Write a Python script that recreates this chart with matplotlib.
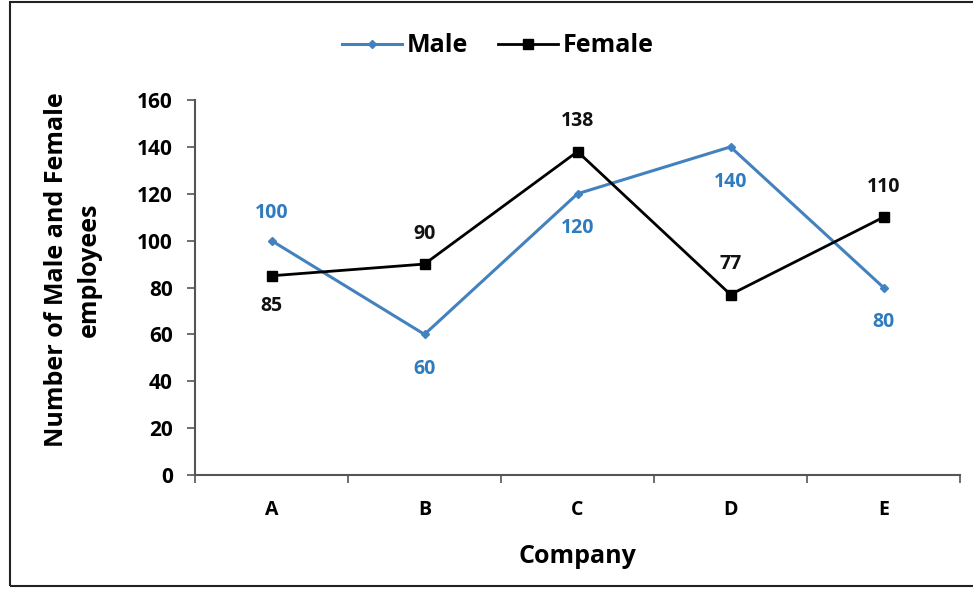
import matplotlib
matplotlib.use("Agg")
import matplotlib.pyplot as plt
from matplotlib.patches import Rectangle

companies = ["A", "B", "C", "D", "E"]
male = [100, 60, 120, 140, 80]
female = [85, 90, 138, 77, 110]
yticks = [0, 20, 40, 60, 80, 100, 120, 140, 160]
male_label_pos = ["above", "below", "below", "below", "below"]
female_label_pos = ["below", "above", "above", "above", "above"]

plt.rcParams['font.family'] = ['Open Sans', 'DejaVu Sans']
WT = "bold"

MALE_C = "#4382bf"
MALE_T = "#2e7bbf"
FEM_C = "#000000"

fig = plt.figure(figsize=(9.73, 5.89), dpi=100)
W, H = 973, 589
ax = fig.add_axes([195 / W, 1 - 475 / H, (960 - 195) / W, (475 - 100) / H])

x = list(range(len(companies)))
ax.plot(x, male, color=MALE_C, lw=2.2, marker="D", ms=4.5, label="Male")
ax.plot(x, female, color=FEM_C, lw=2.0, marker="s", ms=6.5, label="Female")

for i, (v, p) in enumerate(zip(male, male_label_pos)):
    off = 20 if p == "above" else -25
    ax.annotate(str(v), (i, v), xytext=(0, off), textcoords="offset points",
                ha="center", va="center", color=MALE_T, fontsize=14, fontweight=WT)
for i, (v, p) in enumerate(zip(female, female_label_pos)):
    off = 22 if p == "above" else -22
    ax.annotate(str(v), (i, v), xytext=(0, off), textcoords="offset points",
                ha="center", va="center", color="#111111", fontsize=14, fontweight=WT)

ax.set_xlim(-0.5, len(companies) - 0.5)
ax.set_ylim(0, 160)
ax.set_yticks(yticks)
ax.set_yticklabels([str(t) for t in yticks], fontsize=15, fontweight=WT)
ax.set_xticks(x)
ax.set_xticklabels(companies, fontsize=14, fontweight=WT)
ax.set_xticks([i - 0.5 for i in range(len(companies) + 1)], minor=True)
ax.tick_params(axis="x", which="major", length=0, pad=18)
ax.tick_params(axis="x", which="minor", length=6, width=1.2, color="#555555", direction="out")
ax.tick_params(axis="y", length=6, width=1.2, color="#555555", direction="out", pad=10)

for s in ["top", "right"]:
    ax.spines[s].set_visible(False)
for s in ["left", "bottom"]:
    ax.spines[s].set_color("#555555")
    ax.spines[s].set_linewidth(1.5)

ax.set_xlabel("Company", fontsize=18, fontweight=WT, labelpad=17)
fig.text(73 / W, 1 - 270 / H, "Number of Male and Female\nemployees", rotation=90,
         ha="center", va="center", fontsize=18, fontweight=WT, linespacing=1.4)

fig.legend(loc="center", bbox_to_anchor=(498 / W, 1 - 46 / H), ncol=2, frameon=False,
           handlelength=2.4, handletextpad=0.2, columnspacing=1.2,
           prop={"weight": WT, "size": 18})

fig.patches.append(Rectangle((10 / W, 3 / H), 970 / W, 584 / H, transform=fig.transFigure,
                             fill=False, edgecolor="#222222", lw=1.5))

fig.savefig("out.png", dpi=100)
